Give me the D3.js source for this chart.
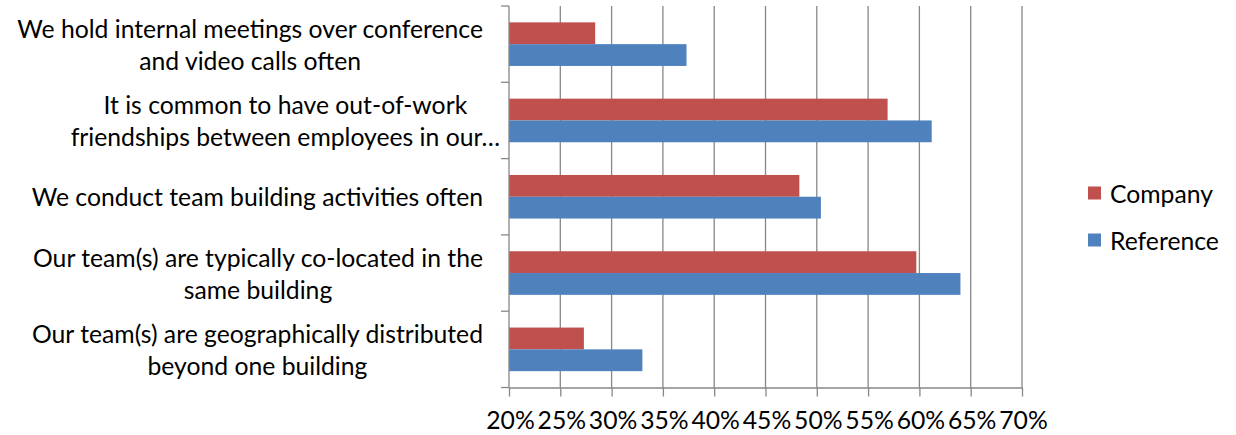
<!DOCTYPE html>
<html>
<head>
<meta charset="utf-8">
<script src="https://cdn.jsdelivr.net/npm/d3@7"></script>
<style>
  html, body { margin: 0; padding: 0; background: #fff; }
  svg { display: block; }
  text { font-family: Lato, "Open Sans", sans-serif; fill: #000; }
</style>
</head>
<body>
<svg id="chart" width="1236" height="435"></svg>
<script>
// Category labels, top to bottom, already broken into display lines
const categoryLines = [
  ["We hold internal meetings over conference", "and video calls often"],
  ["It is common to have out-of-work", "friendships between employees in our…"],
  ["We conduct team building activities often"],
  ["Our team(s) are typically co-located in the", "same building"],
  ["Our team(s) are geographically distributed", "beyond one building"]
];
const seriesNames = ["Company", "Reference"];
const companyValues = [28.4, 56.9, 48.3, 59.7, 27.3];
const referenceValues = [37.3, 61.2, 50.4, 64.0, 33.0];
const xTicks = [20, 25, 30, 35, 40, 45, 50, 55, 60, 65, 70];
const seriesColors = ["#C0504D", "#4F81BD"];

const svg = d3.select("#chart");
const gridColor = "#878787";

const plot = { left: 509, right: 1022, top: 6, bottom: 387.5 };

const x = d3.scaleLinear().domain([20, 70]).range([plot.left, plot.right]);
const y = d3.scaleBand().domain(d3.range(categoryLines.length))
  .range([plot.top, plot.bottom]).paddingInner(0).paddingOuter(0);
const ySeries = d3.scaleBand().domain(seriesNames)
  .range([0, y.bandwidth()]).paddingInner(0).paddingOuter(0.75);

// Size the text so the longest category line spans its measured width
const probe = svg.append("text").attr("font-size", 20)
  .text("We hold internal meetings over conference");
const probeW = probe.node().getComputedTextLength();
probe.remove();
const fontSize = 20 * 466 / probeW;

// Vertical gridlines
svg.append("g").selectAll("line")
  .data(xTicks.filter(t => t > 20))
  .join("line")
  .attr("x1", d => x(d)).attr("x2", d => x(d))
  .attr("y1", plot.top).attr("y2", plot.bottom)
  .attr("stroke", gridColor).attr("stroke-width", 1.3);

// Bars
const rows = categoryLines.map((_, i) => ({ i, values: [companyValues[i], referenceValues[i]] }));
const groups = svg.append("g").selectAll("g")
  .data(rows).join("g")
  .attr("transform", d => `translate(0,${y(d.i)})`);
groups.selectAll("rect")
  .data(d => d.values.map((v, k) => ({ v, s: seriesNames[k], k })))
  .join("rect")
  .attr("x", x(20))
  .attr("y", d => ySeries(d.s))
  .attr("width", d => x(d.v) - x(20))
  .attr("height", ySeries.bandwidth())
  .attr("fill", d => seriesColors[d.k]);

// Bottom axis
const xAxis = d3.axisBottom(x).tickValues(xTicks).tickSize(9).tickSizeOuter(0)
  .tickFormat(d => d + "%");
const gx = svg.append("g").attr("transform", `translate(0,${plot.bottom})`).call(xAxis);
gx.select(".domain").attr("stroke", gridColor).attr("stroke-width", 1.3);
gx.selectAll(".tick line").attr("stroke", gridColor).attr("stroke-width", 1.3);
gx.selectAll(".tick text").attr("font-size", fontSize).attr("font-family", "Lato, sans-serif")
  .attr("fill", "#000").attr("y", 0).attr("dy", "0").attr("transform", "translate(1,41)");

// Left axis with ticks on category boundaries
const gy = svg.append("g");
gy.append("line").attr("x1", plot.left).attr("x2", plot.left)
  .attr("y1", plot.top).attr("y2", plot.bottom)
  .attr("stroke", gridColor).attr("stroke-width", 1.3);
const boundaries = d3.range(categoryLines.length + 1).map(i => plot.top + i * y.step());
gy.selectAll(".bt").data(boundaries).join("line").attr("class", "bt")
  .attr("x1", plot.left - 8).attr("x2", plot.left)
  .attr("y1", d => d).attr("y2", d => d)
  .attr("stroke", gridColor).attr("stroke-width", 1.3);

// Category labels: lines centred on the widest line, block right-aligned
const labelRight = [483, 500, 483, 483, 483];
const lineGap = 32;
categoryLines.forEach((lines, i) => {
  const g = svg.append("g");
  const texts = lines.map(t => g.append("text").attr("font-size", fontSize).text(t));
  const widths = texts.map(t => t.node().getComputedTextLength());
  const cx = labelRight[i] - d3.max(widths) / 2;
  const cy = y(i) + y.bandwidth() / 2;
  const n = lines.length;
  texts.forEach((t, k) => {
    t.attr("x", cx).attr("text-anchor", "middle")
      .attr("y", cy + (k - (n - 1) / 2) * lineGap)
      .attr("dominant-baseline", "central");
  });
});

// Legend
const legend = svg.append("g");
const legendRows = [193, 240];
seriesNames.forEach((name, k) => {
  legend.append("rect").attr("x", 1088).attr("y", legendRows[k] - 6.5)
    .attr("width", 13).attr("height", 13).attr("fill", seriesColors[k]);
  legend.append("text").attr("x", 1110).attr("y", legendRows[k])
    .attr("dominant-baseline", "central").attr("font-size", fontSize).text(name);
});
</script>
</body>
</html>
